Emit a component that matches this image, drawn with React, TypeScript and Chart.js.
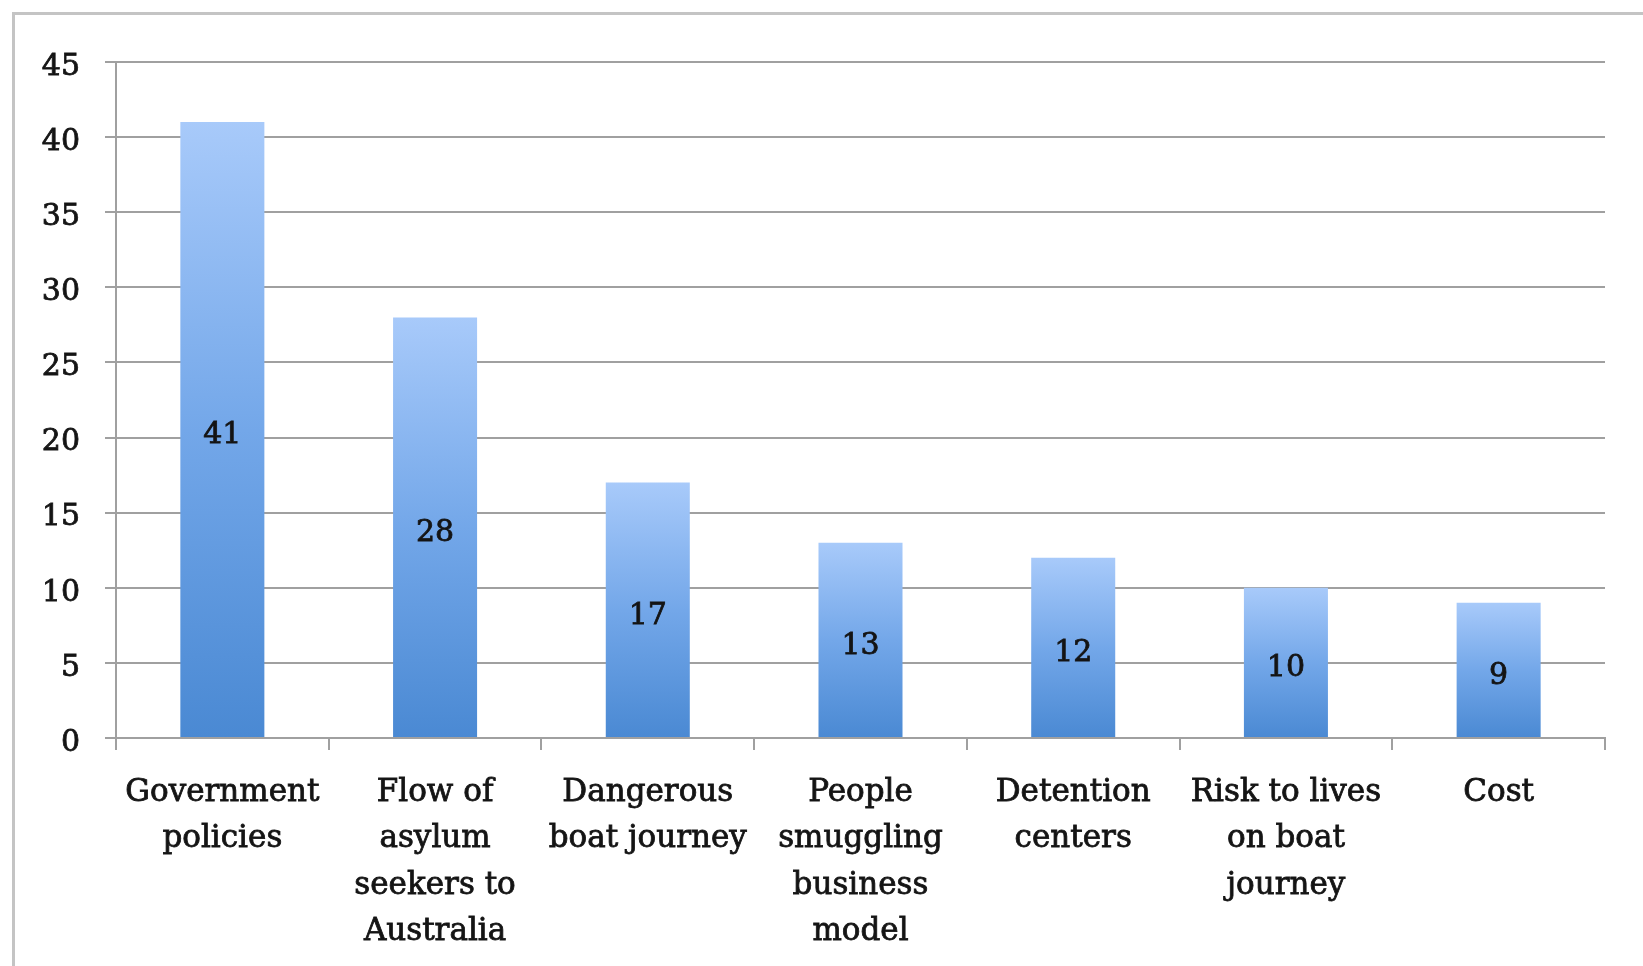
import React, { useEffect, useRef } from "react";
import { Chart, registerables } from "chart.js";

Chart.register(...registerables);

const categories: string[][] = [
  ["Government", "policies"],
  ["Flow of", "asylum", "seekers to", "Australia"],
  ["Dangerous", "boat journey"],
  ["People", "smuggling", "business", "model"],
  ["Detention", "centers"],
  ["Risk to lives", "on boat", "journey"],
  ["Cost"],
];
const values: number[] = [41, 28, 17, 13, 12, 10, 9];
const yTicks: number[] = [0, 5, 10, 15, 20, 25, 30, 35, 40, 45];

const FONT = "'DejaVu Serif', 'Liberation Serif', serif";
const W = 1643;
const H = 966;
const TEXT = "#141414";

const frame = {
  id: "frame",
  beforeDraw(chart: any) {
    const ctx = chart.ctx;
    ctx.save();
    ctx.fillStyle = "#ffffff";
    ctx.fillRect(0, 0, chart.width, chart.height);
    ctx.strokeStyle = "#c4c4c4";
    ctx.lineWidth = 3;
    ctx.beginPath();
    ctx.moveTo(13.5, chart.height);
    ctx.lineTo(13.5, 13.5);
    ctx.lineTo(chart.width, 13.5);
    ctx.stroke();
    ctx.restore();
  },
};

const valueLabels = {
  id: "valueLabels",
  afterDatasetsDraw(chart: any) {
    const ctx = chart.ctx;
    const meta = chart.getDatasetMeta(0);
    ctx.save();
    ctx.font = `30px ${FONT}`;
    ctx.fillStyle = TEXT;
    ctx.strokeStyle = TEXT;
    ctx.lineWidth = 0.8;
    ctx.textAlign = "center";
    ctx.textBaseline = "middle";
    meta.data.forEach((bar: any, i: number) => {
      const y = (bar.y + bar.base) / 2 + 6;
      ctx.fillText(String(values[i]), bar.x, y);
      ctx.strokeText(String(values[i]), bar.x, y);
    });
    ctx.restore();
  },
};

export default function App() {
  const ref = useRef<HTMLCanvasElement | null>(null);
  useEffect(() => {
    if (!ref.current) return;
    const chart = new Chart(ref.current, {
      type: "bar",
      data: {
        labels: categories,
        datasets: [
          {
            data: values,
            backgroundColor: (c: any) => {
              const ch = c.chart;
              const ys = ch.scales?.y;
              if (!ys || typeof c.raw !== "number") return "#6fa3e6";
              const top = ys.getPixelForValue(c.raw);
              const base = ys.getPixelForValue(0);
              if (!isFinite(top) || !isFinite(base) || top === base) return "#6fa3e6";
              const g = ch.ctx.createLinearGradient(0, top, 0, base);
              g.addColorStop(0, "#a8cafa");
              g.addColorStop(0.5, "#73a7e9");
              g.addColorStop(1, "#4a89d3");
              return g;
            },
            borderWidth: 0,
            barPercentage: 0.395,
            categoryPercentage: 1,
          },
        ],
      },
      options: {
        animation: false,
        responsive: false,
        maintainAspectRatio: false,
        layout: { padding: { top: 62, right: 38, left: 0, bottom: 0 } },
        plugins: {
          legend: { display: false },
          tooltip: { enabled: false },
          title: { display: false },
        },
        scales: {
          x: {
            offset: true,
            grid: {
              offset: true,
              drawOnChartArea: false,
              drawTicks: true,
              tickLength: 12,
              color: "#a0a0a0",
              lineWidth: 2,
            },
            border: { display: true, color: "#a0a0a0", width: 2 },
            ticks: {
              color: TEXT,
              textStrokeColor: TEXT,
              textStrokeWidth: 0.8,
              font: { family: FONT, size: 31, lineHeight: 1.49 } as any,
              padding: 20,
              maxRotation: 0,
              minRotation: 0,
              autoSkip: false,
            } as any,
            afterFit: (s: any) => {
              s.height = H - 738;
            },
          },
          y: {
            min: 0,
            max: 45,
            afterBuildTicks: (s: any) => {
              s.ticks = yTicks.map((v) => ({ value: v }));
            },
            grid: {
              color: "#a0a0a0",
              lineWidth: 2,
              drawTicks: true,
              tickLength: 11,
            },
            border: { display: true, color: "#a0a0a0", width: 2 },
            ticks: {
              color: TEXT,
              textStrokeColor: TEXT,
              textStrokeWidth: 0.8,
              font: { family: FONT, size: 30 },
              padding: 25,
              labelOffset: 5,
            } as any,
            afterFit: (s: any) => {
              s.width = 116;
            },
          },
        },
      },
      plugins: [frame, valueLabels],
    });
    return () => chart.destroy();
  }, []);
  return (
    <div style={{ position: "fixed", left: 0, top: 0, width: W, height: H, background: "#fff" }}>
      <canvas ref={ref} width={W} height={H} style={{ width: W, height: H, display: "block" }} />
    </div>
  );
}
